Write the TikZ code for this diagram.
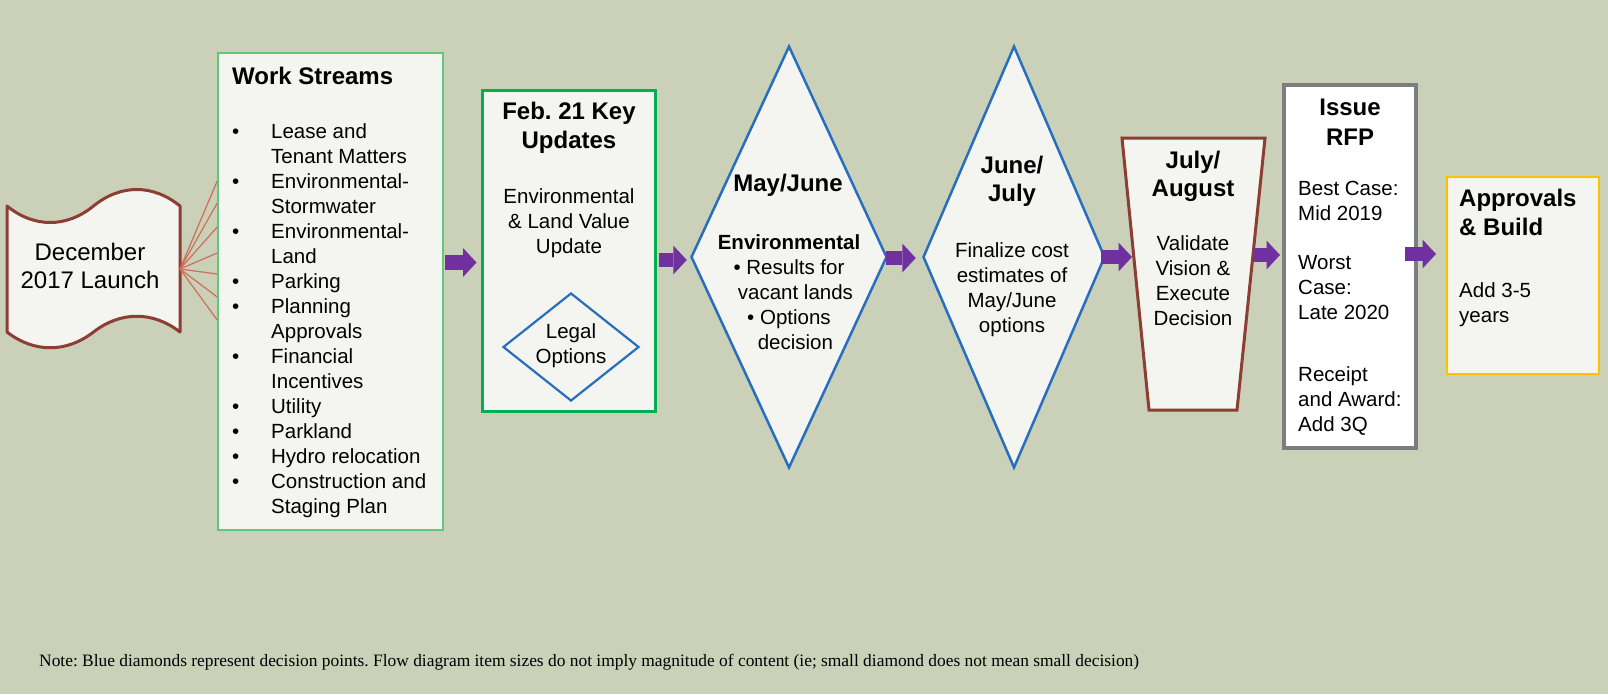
\documentclass[tikz,border=0pt]{standalone}
\usepackage{fontspec}
\setmainfont{Liberation Sans}
\newfontfamily\notefont{Liberation Serif}
\usetikzlibrary{shapes.geometric,arrows.meta}
\definecolor{bg}{RGB}{203,208,184}
\definecolor{boxfill}{RGB}{244,245,240}
\definecolor{brownc}{RGB}{140,62,50}
\definecolor{fanc}{RGB}{205,110,90}
\definecolor{lgreen}{RGB}{95,200,125}
\definecolor{dgreen}{RGB}{0,176,80}
\definecolor{bluec}{RGB}{40,110,190}
\definecolor{purp}{RGB}{112,48,160}
\definecolor{grayc}{RGB}{125,125,125}
\definecolor{goldc}{RGB}{255,192,0}
\newcommand\bodyf{\fontsize{20.5pt}{25pt}\selectfont}
\newcommand\titlef{\fontsize{24pt}{29pt}\selectfont\bfseries}
\newcommand\launchf{\fontsize{24pt}{28pt}\selectfont}
\frenchspacing
\begin{document}
\begin{tikzpicture}[x=1pt,y=-1pt,
  box/.style={draw, fill=boxfill, inner sep=0pt},
  dia/.style={draw=bluec, line width=2.5pt, fill=boxfill, diamond, inner sep=0pt},
  txt/.style={inner sep=0pt, align=center, font=\bodyf},
  ttl/.style={inner sep=0pt, align=center, font=\titlef},
  fan/.style={draw=fanc, line width=1.2pt},
  barrow/.style={draw=purp, line width=14.3pt, -{Triangle[width=29pt,length=13.5pt,line width=0pt]}}
]
\fill[bg] (0,0) rectangle (1608,694);
\useasboundingbox (0,0) rectangle (1608,694);

% Launch scroll
\draw[brownc, line width=3pt, fill=boxfill, line join=round]
  (7,206) .. controls (34,228) and (66.5,228) .. (93.5,206)
  .. controls (120.5,184) and (153,184) .. (180,206)
  -- (180,332)
  .. controls (153,311) and (120.5,311) .. (93.5,332)
  .. controls (66.5,353) and (34,353) .. (7,332) -- cycle;
\node[inner sep=0pt, align=center, font=\launchf] (launch) at (90,266) {December\\2017 Launch};
\coordinate (lp) at (180,269);

% Work streams
\node[box, draw=lgreen, line width=1.5pt, minimum width=225pt, minimum height=477pt] (ws) at (330.5,291.5) {};
\node[inner sep=0pt, anchor=west, font=\titlef] (wstitle) at (232,76) {Work Streams};
\node[inner sep=0pt, anchor=base west, font=\bodyf] (wslist) at (232,138)
 {\begin{tabular}[t]{@{}p{39pt}@{}l@{}}
 •&Lease and\\
  &Tenant Matters\\
 •&Environmental-\\
  &Stormwater\\
 •&Environmental-\\
  &Land\\
 •&Parking\\
 •&Planning\\
  &Approvals\\
 •&Financial\\
  &Incentives\\
 •&Utility\\
 •&Parkland\\
 •&Hydro relocation\\
 •&Construction and\\
  &Staging Plan
 \end{tabular}};
\foreach \yy in {181,203,227,253,274,297,320}
  \draw[fan] (lp) -- (ws.west |- 0,\yy);

% Feb 21
\node[box, draw=dgreen, line width=3pt, minimum width=173pt, minimum height=321pt] (feb) at (568.5,250.5) {};
\node[ttl] (febt) at (569,127.5) {Feb. 21 Key\\Updates};
\node[txt] (febb) at (569,223) {Environmental\\\& Land Value\\Update};
\node[dia, line width=2.2pt, minimum width=136pt, minimum height=108pt] (legal) at (571,347) {};
\node[txt] (legalt) at (571,345.5) {Legal\\Options};

% May/June diamond
\node[dia, minimum width=196pt, minimum height=422pt] (d1) at (789,257) {};
\node[ttl] (d1t) at (788,185) {May/June};
\node[txt] (d1b) at (789,292) {\textbf{Environmental}\\• Results for\\\hphantom{• }vacant lands\\• Options\\\hphantom{• }decision};

% June/July diamond
\node[dia, minimum width=182pt, minimum height=422pt] (d2) at (1014,257) {};
\node[ttl, font=\fontsize{24pt}{28pt}\selectfont\bfseries] (d2t) at (1012,181) {June/\\July};
\node[txt] (d2b) at (1012,289.5) {Finalize cost\\estimates of\\May/June\\options};

% July/August trapezoid
\draw[brownc, line width=3pt, fill=boxfill] (1122,138) -- (1265,138) -- (1237,410) -- (1149,410) -- cycle;
\coordinate (trl) at (1134,257);
\coordinate (trr) at (1253,255);
\node[ttl, font=\fontsize{24pt}{28pt}\selectfont\bfseries] (trt) at (1193,176) {July/\\August};
\node[txt] (trb) at (1193,280.5) {Validate\\Vision \&\\Execute\\Decision};

% Issue RFP
\node[box, draw=grayc, line width=4pt, fill=white, minimum width=132pt, minimum height=363pt] (rfp) at (1350,266.5) {};
\node[ttl, font=\fontsize{24pt}{30pt}\selectfont\bfseries] (rfpt) at (1350,122) {Issue\\RFP};
\node[txt, align=left, anchor=west] (rfp1) at (1298,200.5) {Best Case:\\Mid 2019};
\node[txt, align=left, anchor=west] (rfp2) at (1298,288) {Worst\\Case:\\Late 2020};
\node[txt, align=left, anchor=west] (rfp3) at (1298,401.5) {Receipt\\and Award:\\Add 3Q};

% Approvals
\node[box, draw=goldc, line width=2pt, minimum width=152pt, minimum height=197pt] (app) at (1523,275.5) {};
\node[ttl, align=left, anchor=west] (appt) at (1459,212.5) {Approvals\\\& Build};
\node[txt, align=left, anchor=west] (appb) at (1459,304.5) {Add 3-5\\years};

% Block arrows
\draw[barrow, shorten <=1pt, shorten >=4pt] (ws.east |- 0,262.5) -- (feb.west |- 0,262.5);
\draw[barrow, shorten <=2pt, shorten >=3pt] (feb.east |- 0,260) -- (d1.west |- 0,260);
\draw[barrow, shorten <=-2pt, shorten >=6pt] (d1.east |- 0,258) -- (d2.west |- 0,258);
\draw[barrow, shorten <=-5pt, shorten >=2pt] (d2.east |- 0,257) -- (trl);
\draw[barrow, shorten >=2pt] (trr) -- (rfp.west |- 0,255);
\draw[barrow, shorten <=-13pt, shorten >=10pt] (rfp.east |- 0,254) -- (app.west |- 0,254);

% Note
\node[inner sep=0pt, anchor=west, font=\notefont\fontsize{17.4pt}{20pt}\selectfont] (note) at (39,662)
 {Note: Blue diamonds represent decision points. Flow diagram item sizes do not imply magnitude of content (ie; small diamond does not mean small decision)};
\end{tikzpicture}
\end{document}
